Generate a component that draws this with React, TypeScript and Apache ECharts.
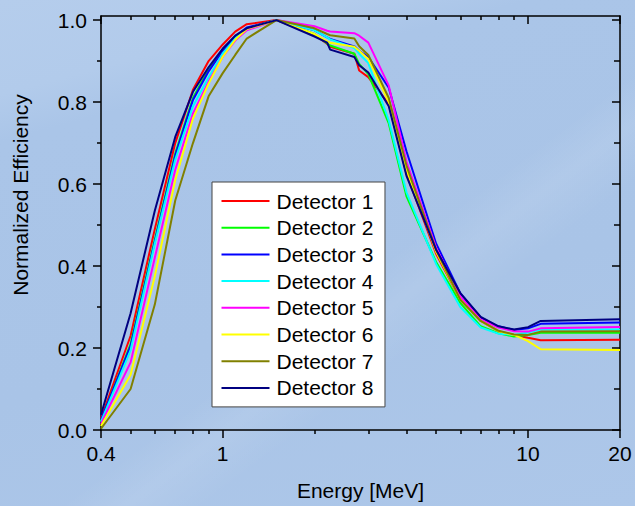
import React, { useEffect, useRef } from "react";
import * as echarts from "echarts";

// Photon energy grid, MeV
const ENERGY_MEV = [0.4, 0.5, 0.6, 0.7, 0.8, 0.9, 1.0, 1.1, 1.2, 1.5, 2.0, 2.2, 2.25, 2.7, 2.8, 3.0, 3.5, 4.0, 5.0, 6.0, 7.0, 8.0, 9.0, 10, 11, 20];

// Normalized efficiency per detector, one value per energy above
const DETECTOR_1 = [0.028, 0.230, 0.490, 0.700, 0.830, 0.900, 0.940, 0.972, 0.990, 1.000, 0.965, 0.942, 0.935, 0.918, 0.877, 0.861, 0.795, 0.625, 0.430, 0.318, 0.266, 0.241, 0.232, 0.225, 0.219, 0.220];
const DETECTOR_2 = [0.022, 0.210, 0.465, 0.675, 0.810, 0.880, 0.925, 0.960, 0.980, 1.000, 0.966, 0.943, 0.938, 0.918, 0.893, 0.868, 0.748, 0.570, 0.410, 0.310, 0.253, 0.236, 0.228, 0.232, 0.237, 0.237];
const DETECTOR_3 = [0.025, 0.205, 0.460, 0.670, 0.805, 0.875, 0.925, 0.960, 0.982, 1.000, 0.975, 0.958, 0.954, 0.936, 0.925, 0.910, 0.835, 0.680, 0.455, 0.334, 0.274, 0.253, 0.244, 0.248, 0.259, 0.262];
const DETECTOR_4 = [0.020, 0.195, 0.455, 0.660, 0.790, 0.860, 0.918, 0.955, 0.978, 1.000, 0.975, 0.958, 0.953, 0.932, 0.918, 0.895, 0.755, 0.580, 0.405, 0.300, 0.250, 0.235, 0.232, 0.238, 0.245, 0.245];
const DETECTOR_5 = [0.015, 0.165, 0.420, 0.635, 0.772, 0.850, 0.910, 0.950, 0.975, 1.000, 0.985, 0.974, 0.972, 0.968, 0.962, 0.945, 0.840, 0.655, 0.445, 0.326, 0.270, 0.250, 0.241, 0.240, 0.248, 0.251];
const DETECTOR_6 = [0.010, 0.135, 0.375, 0.610, 0.760, 0.845, 0.910, 0.952, 0.978, 1.000, 0.966, 0.948, 0.945, 0.935, 0.925, 0.905, 0.800, 0.635, 0.435, 0.318, 0.266, 0.241, 0.232, 0.217, 0.197, 0.195];
const DETECTOR_7 = [0.003, 0.100, 0.306, 0.560, 0.700, 0.814, 0.870, 0.915, 0.955, 1.000, 0.980, 0.966, 0.963, 0.955, 0.936, 0.915, 0.810, 0.645, 0.440, 0.318, 0.266, 0.242, 0.233, 0.232, 0.240, 0.241];
const DETECTOR_8 = [0.037, 0.285, 0.535, 0.715, 0.825, 0.885, 0.930, 0.962, 0.980, 1.000, 0.960, 0.945, 0.928, 0.910, 0.890, 0.872, 0.790, 0.620, 0.440, 0.334, 0.276, 0.253, 0.245, 0.251, 0.266, 0.270];

const SERIES_NAMES = ["Detector 1", "Detector 2", "Detector 3", "Detector 4", "Detector 5", "Detector 6", "Detector 7", "Detector 8"];
const SERIES_VALUES = [DETECTOR_1, DETECTOR_2, DETECTOR_3, DETECTOR_4, DETECTOR_5, DETECTOR_6, DETECTOR_7, DETECTOR_8];
const SERIES_COLORS = ["#ff0000", "#00ff00", "#0000ff", "#00ffff", "#ff00ff", "#ffff00", "#808000", "#000080"];

// Axis ticks
const X_MIN = 0.4;
const X_MAX = 20;
const X_MAJOR = [0.4, 1, 10, 20];
const X_MINOR = [0.5, 0.6, 0.7, 0.8, 0.9, 2, 3, 4, 5, 6, 7, 8, 9];
const Y_MIN = 0;
const Y_MAX = 1.01;
const Y_MAJOR = [0, 0.2, 0.4, 0.6, 0.8, 1.0];
const Y_MINOR = [0.1, 0.3, 0.5, 0.7, 0.9];

const FONT = "'Liberation Sans', Arial, sans-serif";
const lg = (v: number) => Math.log10(v);

export default function App() {
  const ref = useRef<HTMLDivElement>(null);

  useEffect(() => {
    if (!ref.current) return;
    const chart = echarts.init(ref.current, null, { renderer: "svg" });

    const lineStyle = { color: "#000", width: 1.5 };

    // Energy axis is drawn as a linear axis over log10(E)
    const xBase = {
      type: "value" as const,
      min: lg(X_MIN),
      max: lg(X_MAX),
      splitLine: { show: false },
    };
    const yBase = {
      type: "value" as const,
      min: Y_MIN,
      max: Y_MAX,
      splitLine: { show: false },
    };

    const xAxes = [
      {
        ...xBase,
        position: "bottom",
        axisLine: { show: true, onZero: false, lineStyle },
        axisTick: { show: true, inside: false, length: 8, lineStyle, customValues: X_MAJOR.map(lg) },
        axisLabel: {
          show: true,
          margin: 13,
          color: "#000",
          fontSize: 21,
          fontFamily: FONT,
          customValues: X_MAJOR.map(lg),
          formatter: (v: number) => String(+Math.pow(10, v).toPrecision(3)),
        },
        name: "Energy [MeV]",
        nameLocation: "middle",
        nameGap: 50,
        nameTextStyle: { color: "#000", fontSize: 21, fontFamily: FONT },
      },
      {
        ...xBase,
        position: "bottom",
        axisLine: { show: false, onZero: false },
        axisTick: { show: true, inside: false, length: 4, lineStyle, customValues: X_MINOR.map(lg) },
        axisLabel: { show: false },
      },
      {
        ...xBase,
        position: "top",
        axisLine: { show: true, onZero: false, lineStyle },
        axisTick: { show: true, inside: true, length: 8, lineStyle, customValues: X_MAJOR.map(lg) },
        axisLabel: { show: false },
      },
      {
        ...xBase,
        position: "top",
        axisLine: { show: false, onZero: false },
        axisTick: { show: true, inside: true, length: 4, lineStyle, customValues: X_MINOR.map(lg) },
        axisLabel: { show: false },
      },
    ];

    const yAxes = [
      {
        ...yBase,
        position: "left",
        axisLine: { show: true, onZero: false, lineStyle },
        axisTick: { show: true, inside: false, length: 8, lineStyle, customValues: Y_MAJOR },
        axisLabel: {
          show: true,
          margin: 14,
          color: "#000",
          fontSize: 21,
          fontFamily: FONT,
          customValues: Y_MAJOR,
          formatter: (v: number) => v.toFixed(1),
        },
        name: "Normalized Efficiency",
        nameLocation: "middle",
        nameGap: 70,
        // extra leading padding lifts the title above the axis midpoint
        nameTextStyle: { color: "#000", fontSize: 21, fontFamily: FONT, padding: [0, 0, 0, 56] },
      },
      {
        ...yBase,
        position: "left",
        axisLine: { show: false, onZero: false },
        axisTick: { show: true, inside: false, length: 4, lineStyle, customValues: Y_MINOR },
        axisLabel: { show: false },
      },
      {
        ...yBase,
        position: "right",
        axisLine: { show: true, onZero: false, lineStyle },
        axisTick: { show: true, inside: true, length: 8, lineStyle, customValues: Y_MAJOR },
        axisLabel: { show: false },
      },
      {
        ...yBase,
        position: "right",
        axisLine: { show: false, onZero: false },
        axisTick: { show: true, inside: true, length: 6, lineStyle, customValues: Y_MINOR },
        axisLabel: { show: false },
      },
    ];

    const series = SERIES_NAMES.map((name, i) => ({
      name,
      type: "line" as const,
      xAxisIndex: 0,
      yAxisIndex: 0,
      symbol: "none",
      showSymbol: false,
      color: SERIES_COLORS[i],
      lineStyle: { color: SERIES_COLORS[i], width: 2 },
      data: ENERGY_MEV.map((e, k) => [lg(e), SERIES_VALUES[i][k]]),
    }));

    chart.setOption({
      animation: false,
      backgroundColor: "transparent",
      grid: { left: 101, right: 15, top: 16, bottom: 73, containLabel: false },
      xAxis: xAxes,
      yAxis: yAxes,
      legend: {
        data: SERIES_NAMES,
        orient: "vertical",
        left: 212,
        top: 182,
        backgroundColor: "#ffffff",
        borderColor: "#444",
        borderWidth: 1,
        borderRadius: 0,
        padding: [8.5, 11.6, 8.5, 9.5],
        icon: "rect",
        itemWidth: 48,
        itemHeight: 2,
        itemGap: 5.7,
        selectedMode: false,
        textStyle: { color: "#000", fontSize: 21, lineHeight: 21, fontFamily: FONT, padding: [0, 0, 0, 2] },
      },
      series,
    });

    return () => chart.dispose();
  }, []);

  return (
    <div
      ref={ref}
      style={{
        position: "fixed",
        left: 0,
        top: 0,
        width: 635,
        height: 506,
        background:
          "linear-gradient(143deg, rgba(255,255,255,0) 56%, rgba(255,255,255,0.09) 61%, rgba(255,255,255,0) 67%)," +
          "linear-gradient(165deg, #b5cdec 0%, #b2cbeb 14%, #aac5e8 21%, #a9c4e7 60%, #adc7e9 100%)",
      }}
    />
  );
}
